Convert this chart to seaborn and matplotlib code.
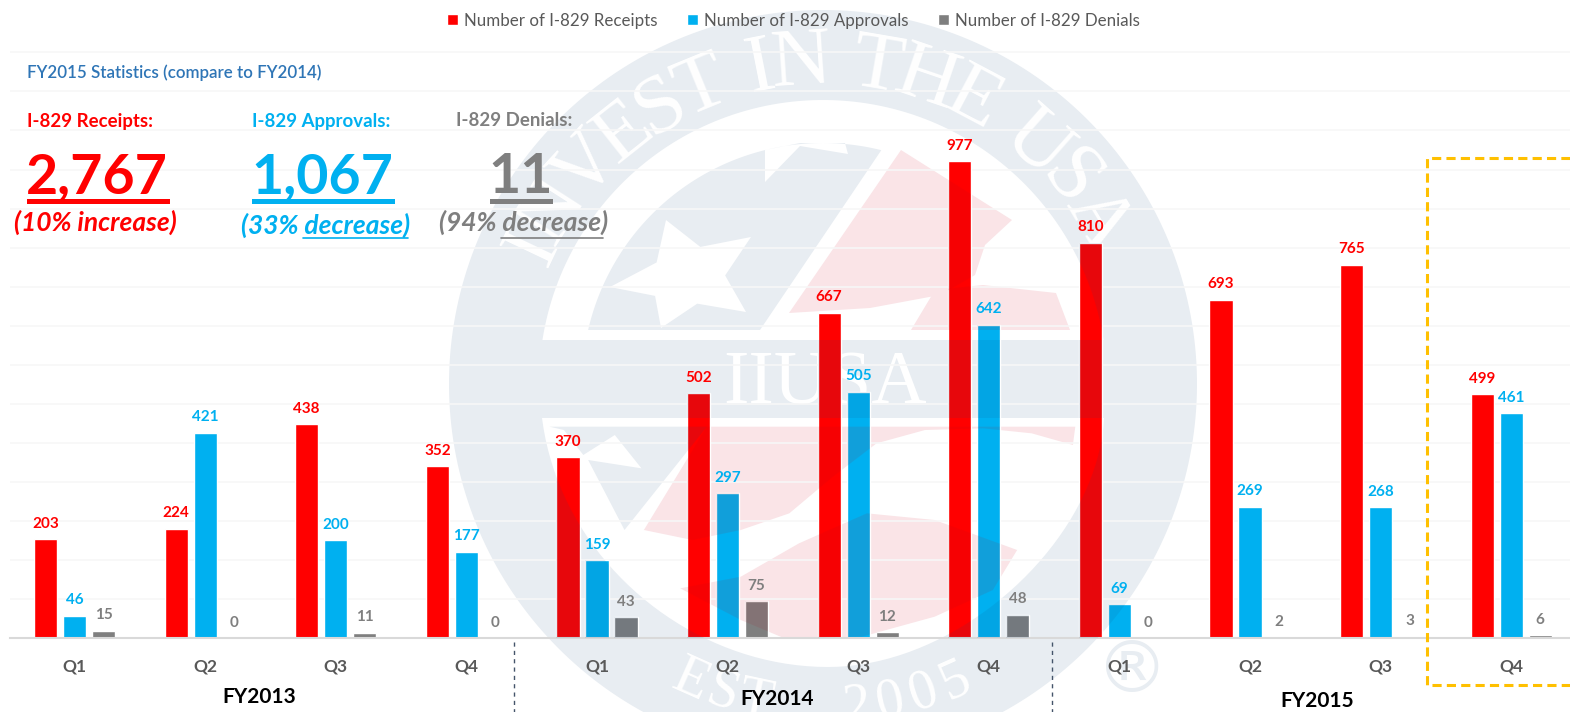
import numpy as np
import pandas as pd
import seaborn as sns
import matplotlib.pyplot as plt
from matplotlib.patches import PathPatch, Rectangle
from matplotlib.path import Path

# values
years = ["FY2013", "FY2014", "FY2015"]
quarters = ["Q1", "Q2", "Q3", "Q4"]
series_names = ["Number of I-829 Receipts", "Number of I-829 Approvals", "Number of I-829 Denials"]
receipts = [203, 224, 438, 352, 370, 502, 667, 977, 810, 693, 765, 499]
approvals = [46, 421, 200, 177, 159, 297, 505, 642, 69, 269, 268, 461]
denials = [15, 0, 11, 0, 43, 75, 12, 48, 0, 2, 3, 6]

RED = "#ff0000"
BLUE = "#00b0f0"
GREY = "#7f7f7f"
LABEL_GREY = "#595959"
TINT = "#e8edf2"
PINK = "#fae4e7"

sns.set_theme(style="white")
plt.rcParams["font.family"] = ["Lato", "DejaVu Sans"]

W, H = 1570, 712
BASE_Y = 638
PX_PER_UNIT = 0.488

fig = plt.figure(figsize=(W / 100, H / 100), dpi=100, facecolor="white")


def pixel_axes(zorder):
    a = fig.add_axes([0, 0, 1, 1], zorder=zorder)
    a.set_xlim(0, W)
    a.set_ylim(H, 0)
    a.axis("off")
    return a


bg = pixel_axes(0)
ov = pixel_axes(3)
ax = fig.add_axes([10 / W, (H - BASE_Y) / H, (W - 10) / W, BASE_Y / H], zorder=1)
ax.patch.set_alpha(0)


# --- logo watermark shapes, in picture pixels
CX, CY = 823, 384


def arc(r, a0, a1, n=120):
    # angles measured clockwise from straight up
    t = np.radians(np.linspace(a0, a1, n))
    return np.column_stack([CX + r * np.sin(t), CY - r * np.cos(t)])


def bez(p0, p1, p2, p3, n=40):
    t = np.linspace(0, 1, n)[:, None]
    p0, p1, p2, p3 = map(np.array, (p0, p1, p2, p3))
    return (1 - t) ** 3 * p0 + 3 * (1 - t) ** 2 * t * p1 + 3 * (1 - t) * t ** 2 * p2 + t ** 3 * p3


def oriented(pts, positive=True):
    pts = np.asarray(pts, dtype=float)
    x, y = pts[:, 0], pts[:, 1]
    area = np.sum(x * np.roll(y, -1) - np.roll(x, -1) * y)
    if (area > 0) != positive:
        pts = pts[::-1]
    return pts


def compound(outer, holes=()):
    paths = [Path(np.vstack([oriented(outer), oriented(outer)[:1]]), closed=True)]
    for h in holes:
        paths.append(Path(np.vstack([oriented(h, False), oriented(h, False)[:1]]), closed=True))
    return Path.make_compound_path(*paths)


def zoomed(pts):
    return [(450 + x / 2.063, 380 + y / 3) for x, y in pts]


# outer ring: disc with the white arc segment and the shield cut out
a_band = np.degrees(np.arccos((CY - 340) / 284))
top_hole = arc(284, -a_band, a_band)
shield_hole = np.vstack([[(542, 418), (1104, 418)],
                         bez((1104, 418), (1098, 540), (960, 667), (828, 667)),
                         bez((828, 667), (690, 667), (560, 560), (542, 418))])
outer_ring = compound(arc(374, 0, 360, 300), [top_hole, shield_hole])

# upper left field with the star
a_left = np.degrees(np.arccos((CY - 330) / 241))
field = np.vstack([arc(241, -a_left, 14), [(760, 330)]])
star_c = np.array([687, 277])
star_tips = np.array([(666, 220), (751, 237), (746, 312), (661, 328), (610, 287)], dtype=float)
star = []
for i in range(5):
    star.append(star_tips[i])
    mid = (star_tips[i] + star_tips[(i + 1) % 5]) / 2
    star.append(star_c + (mid - star_c) * 0.62)
notch = [(765, 150), (765, 182), (800, 146), (848, 154), (845, 143), (800, 143)]
upper_field = compound(field, [star, notch])

# wedge inside the shield
wedge = compound(zoomed([(205, 140), (530, 140), (360, 450), (285, 240), (395, 265),
                         (340, 165), (275, 225), (235, 150)]))

pink_shapes = [
    compound([(901, 150), (1012, 220), (985, 245), (975, 275), (940, 295), (870, 308), (789, 313)]),
    compound([(911, 330), (935, 290), (983, 285), (1056, 293), (1070, 330)]),
    compound(zoomed([(530, 140), (1290, 140), (1285, 195), (1200, 160), (1100, 145), (980, 150),
                     (880, 190), (790, 290), (700, 400), (600, 450), (500, 480), (400, 450)])),
    compound(zoomed([(475, 625), (600, 590), (720, 490), (860, 400), (1000, 420), (1170, 510),
                     (1120, 630), (1000, 710), (850, 770), (690, 775), (600, 720)])),
]
tint_shapes = [outer_ring, upper_field, wedge]

for p in tint_shapes:
    bg.add_patch(PathPatch(p, facecolor=TINT, edgecolor="none"))
for p in pink_shapes:
    bg.add_patch(PathPatch(p, facecolor=PINK, edgecolor="none"))

# white lettering of the logo
letter_w = {"I": 0.36, "N": 0.74, "V": 0.74, "E": 0.63, "S": 0.58, "T": 0.63, " ": 0.34,
            "H": 0.74, "U": 0.74, "A": 0.74}
motto = "INVEST IN THE USA"
total = sum(letter_w[c] for c in motto)
pos = -67.0
span = 131.0
for c in motto:
    step = span * letter_w[c] / total
    ang = pos + step / 2
    pos += step
    t = np.radians(ang)
    bg.text(CX + 320 * np.sin(t), CY - 320 * np.cos(t), c, rotation=-ang, rotation_mode="anchor",
            ha="center", va="center", fontsize=60, color="white", family="Liberation Serif")

bg.text(825, 384, "IIUSA", ha="center", va="center", fontsize=55, color="white", family="Liberation Serif")

founded = "EST. 2005"
for i, c in enumerate(founded):
    ang = 180 + 24 - i * 6
    t = np.radians(ang)
    bg.text(CX + 325 * np.sin(t), CY - 325 * np.cos(t), c, rotation=180 - ang, rotation_mode="anchor",
            ha="center", va="center", fontsize=40, color="white", family="Liberation Serif")

bg.text(1132, 673, "\u00ae", ha="center", va="center", fontsize=52, color=TINT, family="DejaVu Sans")


# --- bars
labels = [f"{y} {q}" for y in years for q in quarters]
df = pd.DataFrame({
    "period": labels * 3,
    "series": np.repeat(series_names, len(labels)),
    "value": receipts + approvals + denials,
})

sns.barplot(data=df, x="period", y="value", hue="series", palette=[RED, BLUE, GREY],
            saturation=1, width=0.666, gap=0.2, ax=ax, zorder=2)

ax.set_xlim(-0.494, 11.45)
ax.set_ylim(0, BASE_Y / PX_PER_UNIT)
ax.set_xlabel("")
ax.set_ylabel("")
ax.set_yticks(np.arange(80, 1280, 80))
ax.set_yticklabels([])
ax.grid(axis="y", color="#f7f7f7", lw=1.2)
ax.grid(axis="x", visible=False)
ax.set_axisbelow(True)
ax.set_xticks(range(len(labels)))
ax.set_xticklabels(quarters * 3, fontsize=12.5, fontweight="bold", color=LABEL_GREY)
ax.tick_params(axis="x", length=0, pad=15)
ax.tick_params(axis="y", length=0)
sns.despine(ax=ax, left=True)
ax.spines["bottom"].set_color("#d9d9d9")
ax.spines["bottom"].set_linewidth(1.5)

label_colors = [RED, BLUE, GREY]
for cont, col in zip(ax.containers, label_colors):
    ax.bar_label(cont, fmt="%g", padding=6, fontsize=11, fontweight="bold", color=col, zorder=6)

# the watermark also shows through the bars
bar_paths = []
for cont in ax.containers:
    for b in cont:
        bar_paths.append(Path(b.get_corners(), closed=False))
bars_clip = Path.make_compound_path(*bar_paths)
for shapes, col in ((tint_shapes, "#194b7d"), (pink_shapes, "#b01020")):
    for p in shapes:
        patch = PathPatch(p, facecolor=col, edgecolor="none", alpha=0.1, transform=bg.transData, zorder=5)
        ax.add_patch(patch)
        patch.set_clip_path(bars_clip, ax.transData)

sns.move_legend(ax, "upper center", bbox_to_anchor=(0.5022, 1.0), ncol=3, frameon=False, title=None,
                fontsize=12.2, handlelength=0.65, handleheight=0.65, handletextpad=0.35,
                columnspacing=1.75, borderaxespad=0.35, labelcolor=LABEL_GREY)


# --- texts around the chart
ov.text(259, 697, years[0], ha="center", va="center", fontsize=15, fontweight="bold", color="black")
ov.text(777, 699, years[1], ha="center", va="center", fontsize=15, fontweight="bold", color="black")
ov.text(1317, 701, years[2], ha="center", va="center", fontsize=15, fontweight="bold", color="black")

for x in (514, 1052):
    ov.plot([x, x], [642, 712], color="#44546a", lw=1, ls=(0, (3, 3)))

ov.plot([W, 1427, 1427, W], [158, 158, 685, 685], color="#ffc000", lw=2.2, ls=(0, (3, 1.7)))

ov.text(27, 73, "FY2015 Statistics (compare to FY2014)", va="center", fontsize=12.2, fontweight="semibold", color="#2e75b6")

ov.text(27, 121, "I-829 Receipts:", va="center", fontsize=13.4, fontweight="bold", color=RED)
ov.text(252, 121, "I-829 Approvals:", va="center", fontsize=13.4, fontweight="bold", color=BLUE)
ov.text(456, 121, "I-829 Denials:", va="center", fontsize=13.4, fontweight="bold", color=GREY)

ov.text(97, 177, "2,767", ha="center", va="center", fontsize=40, fontweight="bold", color=RED)
ov.text(322, 177, "1,067", ha="center", va="center", fontsize=40, fontweight="bold", color=BLUE)
ov.text(521, 177, "11", ha="center", va="center", fontsize=40, fontweight="bold", color=GREY)

for x0, x1, col in ((27, 170, RED), (252, 395, BLUE), (490, 553, GREY)):
    ov.add_patch(Rectangle((x0, 199), x1 - x0, 5, facecolor=col, edgecolor="none"))

ov.text(95, 222, "(10% increase)", ha="center", va="center", fontsize=19, fontweight="bold", style="italic", color=RED)
ov.text(326, 225, "(33% decrease)", ha="center", va="center", fontsize=19, fontweight="bold", style="italic", color=BLUE)
ov.text(524, 222, "(94% decrease)", ha="center", va="center", fontsize=19, fontweight="bold", style="italic", color=GREY)
ov.plot([303, 408], [238, 238], color=BLUE, lw=1.2)
ov.plot([501, 603], [238, 238], color=GREY, lw=1.2)

fig.savefig("out.png", dpi=100)
